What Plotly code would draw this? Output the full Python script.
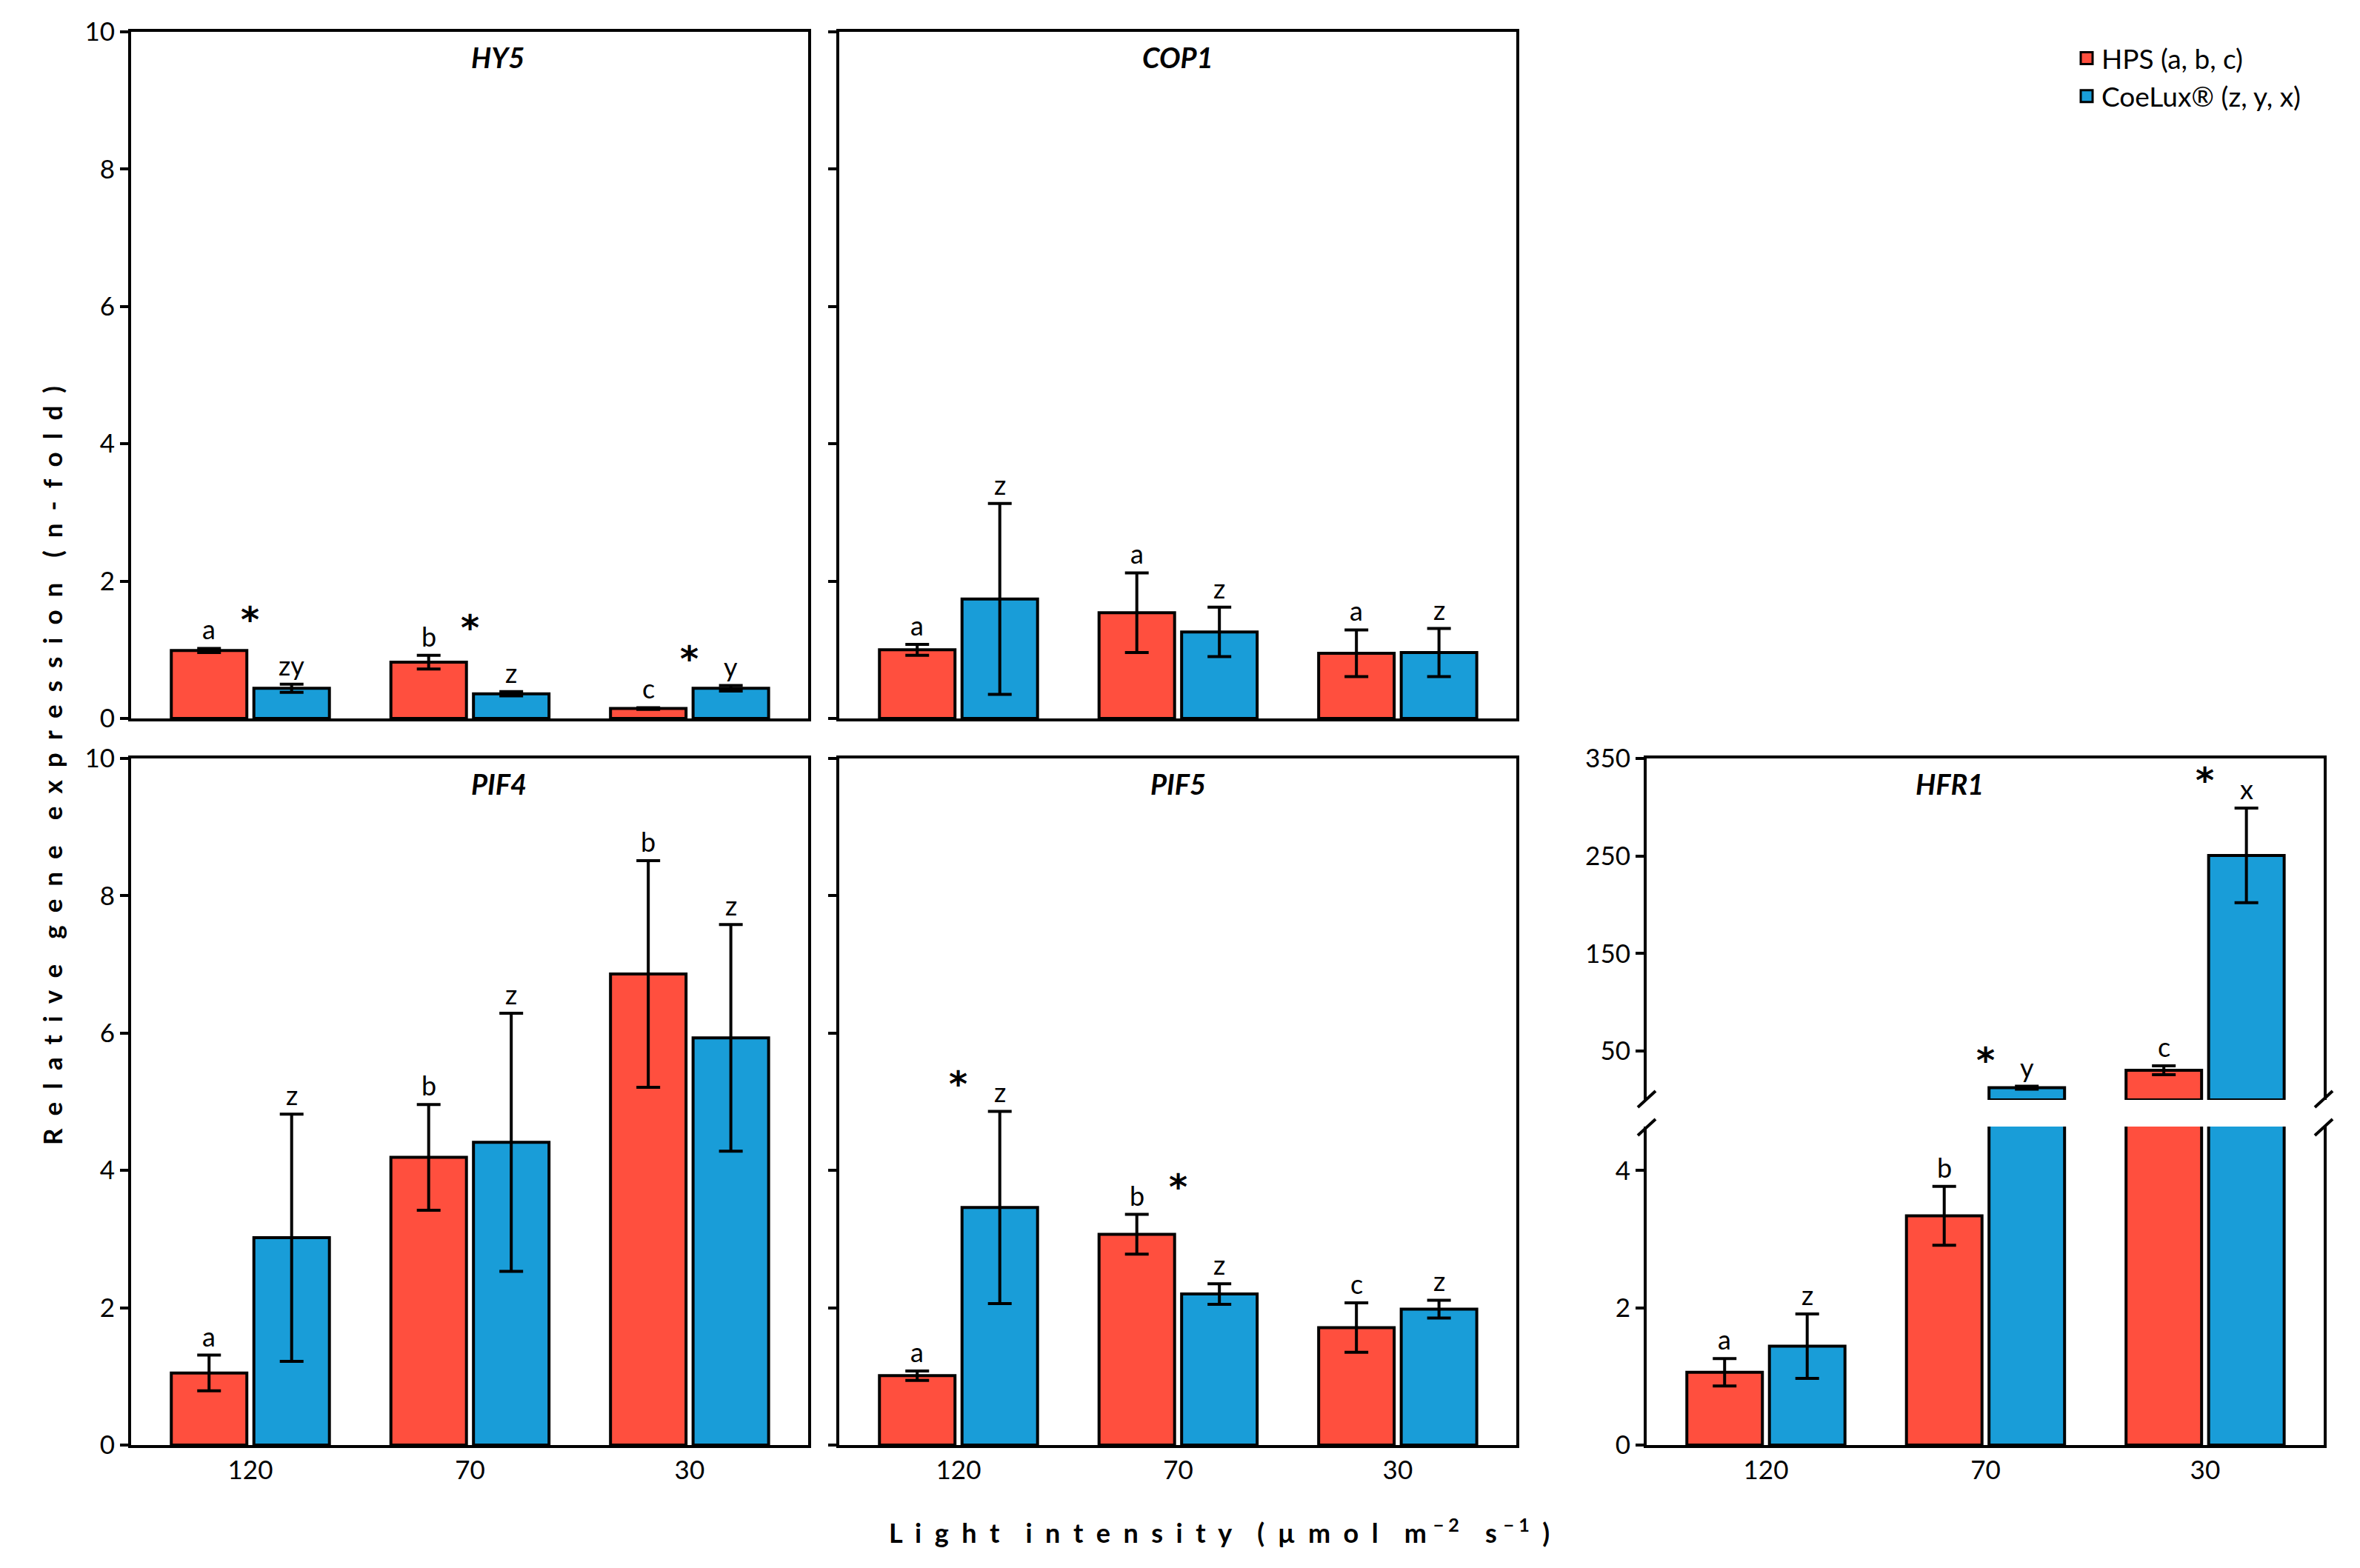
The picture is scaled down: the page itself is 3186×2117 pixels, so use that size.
import plotly.graph_objects as go

W, H = 3186, 2117
FONT = "Lato"

# ---------------- data ----------------
categories = ["120", "70", "30"]
series_names = ["HPS (a, b, c)", "CoeLux® (z, y, x)"]
colors = ["#FF4F3E", "#199DD8"]

hy5_hps = [0.99, 0.82, 0.145]
hy5_hps_err = [0.03, 0.10, 0.012]
hy5_coe = [0.44, 0.36, 0.44]
hy5_coe_err = [0.06, 0.03, 0.04]
hy5_hps_letters = ["a", "b", "c"]
hy5_coe_letters = ["zy", "z", "y"]
hy5_star_x = [0, 1, 2]
hy5_star_y = [1.54, 1.42, 0.97]

cop1_hps = [1.00, 1.54, 0.95]
cop1_hps_err = [0.08, 0.58, 0.34]
cop1_coe = [1.74, 1.26, 0.96]
cop1_coe_err = [1.39, 0.36, 0.35]
cop1_hps_letters = ["a", "a", "a"]
cop1_coe_letters = ["z", "z", "z"]
cop1_star_x = []
cop1_star_y = []

pif4_hps = [1.05, 4.19, 6.86]
pif4_hps_err = [0.26, 0.77, 1.65]
pif4_coe = [3.02, 4.41, 5.93]
pif4_coe_err = [1.80, 1.88, 1.65]
pif4_hps_letters = ["a", "b", "b"]
pif4_coe_letters = ["z", "z", "z"]
pif4_star_x = []
pif4_star_y = []

pif5_hps = [1.01, 3.07, 1.71]
pif5_hps_err = [0.07, 0.29, 0.36]
pif5_coe = [3.46, 2.20, 1.98]
pif5_coe_err = [1.40, 0.15, 0.13]
pif5_hps_letters = ["a", "b", "c"]
pif5_coe_letters = ["z", "z", "z"]
pif5_star_x = [0, 1]
pif5_star_y = [5.36, 3.86]

hfr1_hps = [1.06, 3.34, 30.4]
hfr1_hps_err = [0.20, 0.43, 4.5]
hfr1_coe = [1.44, 12.5, 250.6]
hfr1_coe_err = [0.47, 1.5, 48.5]
hfr1_hps_letters = ["a", "b", "c"]
hfr1_coe_letters = ["z", "y", "x"]
hfr1_star_x = [1, 2]
hfr1_star_y = [48, 335]

main_ticks = [0, 2, 4, 6, 8, 10]
hfr1_low_ticks = [0, 2, 4]
hfr1_high_ticks = [50, 150, 250, 350]
HFR1_LOW_MAX = 4.64
HFR1_HIGH_RANGE = [0, 350]

# ---------------- geometry (pixels) ----------------
def px_x(p):
    return p / W

def px_y(p):
    return 1 - p / H

COLS = [(177, 1091), (1133, 2047), (2223, 3137)]
TOP_ROW = (43, 970)
BOT_ROW = (1024, 1951)
HFR1_UP = (1024, 1485)
HFR1_LO = (1521, 1951)

BARGAP = 0.248
BARGROUPGAP = 0.085
OFF = (1 - BARGAP) / 4  # bar centre offset from category centre

fig = go.Figure()

panels = [
    ("HY5", 1, COLS[0], TOP_ROW, hy5_hps, hy5_hps_err, hy5_coe, hy5_coe_err,
     hy5_hps_letters, hy5_coe_letters, hy5_star_x, hy5_star_y, True, False),
    ("COP1", 2, COLS[1], TOP_ROW, cop1_hps, cop1_hps_err, cop1_coe, cop1_coe_err,
     cop1_hps_letters, cop1_coe_letters, cop1_star_x, cop1_star_y, False, False),
    ("PIF4", 3, COLS[0], BOT_ROW, pif4_hps, pif4_hps_err, pif4_coe, pif4_coe_err,
     pif4_hps_letters, pif4_coe_letters, pif4_star_x, pif4_star_y, True, True),
    ("PIF5", 4, COLS[1], BOT_ROW, pif5_hps, pif5_hps_err, pif5_coe, pif5_coe_err,
     pif5_hps_letters, pif5_coe_letters, pif5_star_x, pif5_star_y, False, True),
]

xs = list(range(len(categories)))
annotations = []
layout_axes = {}


def sfx_of(ax_i):
    return "" if ax_i == 1 else str(ax_i)


def add_bars(ax_i, hps, hps_err, coe, coe_err):
    sfx = sfx_of(ax_i)
    for name, vals, errs, col in [(series_names[0], hps, hps_err, colors[0]),
                                  (series_names[1], coe, coe_err, colors[1])]:
        fig.add_trace(go.Bar(
            x=xs, y=vals, name=name, showlegend=False, legendgroup=name,
            marker=dict(color=col, line=dict(color="black", width=4)),
            error_y=dict(type="data", array=errs, color="black", thickness=4, width=16),
            xaxis="x" + sfx, yaxis="y" + sfx,
        ))


def letter_ann(ax_i, x, y, text):
    sfx = sfx_of(ax_i)
    annotations.append(dict(x=x, y=y, xref="x" + sfx, yref="y" + sfx, text=text,
                            showarrow=False, yanchor="bottom", yshift=2,
                            font=dict(family=FONT, size=36, color="black")))


def star_ann(ax_i, x, y):
    sfx = sfx_of(ax_i)
    annotations.append(dict(x=x, y=y, xref="x" + sfx, yref="y" + sfx, text="<b>*</b>",
                            showarrow=False, yanchor="middle", yshift=-9,
                            font=dict(family="DejaVu Sans", size=48, color="black")))


def title_ann(col, row, text):
    annotations.append(dict(x=px_x((col[0] + col[1]) / 2), y=px_y(row[0] + 34),
                            xref="paper", yref="paper", text="<b><i>%s</i></b>" % text,
                            showarrow=False, yanchor="middle",
                            font=dict(family=FONT, size=38, color="black")))


axis_common = dict(showgrid=False, zeroline=False, linecolor="black", linewidth=4,
                   automargin=False,
                   tickfont=dict(family=FONT, size=35, color="black"))

# legend entries (square swatches with black outline, one per series)
for name, col in zip(series_names, colors):
    fig.add_trace(go.Scatter(
        x=[None], y=[None], mode="markers", name=name, legendgroup=name,
        showlegend=True, hoverinfo="skip",
        marker=dict(symbol="square", size=16, color=col,
                    line=dict(color="black", width=3)),
    ))

for (name, ai, col, row, hps, hps_err, coe, coe_err, lh, lc, sx, sy,
     ylabels, xlabels) in panels:
    add_bars(ai, hps, hps_err, coe, coe_err)
    sfx = sfx_of(ai)
    layout_axes["xaxis" + sfx] = dict(
        axis_common, domain=[px_x(col[0]), px_x(col[1])], anchor="y" + sfx,
        range=[-0.543, 2.54], showline=True, mirror=True, ticks="",
        tickvals=xs, ticktext=categories, showticklabels=xlabels)
    layout_axes["yaxis" + sfx] = dict(
        axis_common, domain=[px_y(row[1]), px_y(row[0])], anchor="x" + sfx,
        range=[0, 10], showline=True, mirror=True, ticks="outside", ticklen=11,
        tickwidth=4, tickcolor="black", tickvals=main_ticks,
        showticklabels=ylabels)
    for i in xs:
        letter_ann(ai, i - OFF, hps[i] + hps_err[i], lh[i])
        letter_ann(ai, i + OFF, coe[i] + coe_err[i], lc[i])
    for x, y in zip(sx, sy):
        star_ann(ai, x, y)
    title_ann(col, row, name)

# ---------------- HFR1 (broken axis) ----------------
add_bars(5, hfr1_hps, hfr1_hps_err, hfr1_coe, hfr1_coe_err)
up_hps = [v if v > HFR1_LOW_MAX else None for v in hfr1_hps]
up_coe = [v if v > HFR1_LOW_MAX else None for v in hfr1_coe]
add_bars(6, up_hps, hfr1_hps_err, up_coe, hfr1_coe_err)

col = COLS[2]
layout_axes["xaxis5"] = dict(axis_common, domain=[px_x(col[0]), px_x(col[1])], anchor="y5",
                             range=[-0.543, 2.54], showline=True, mirror=False, ticks="",
                             tickvals=xs, ticktext=categories)
layout_axes["yaxis5"] = dict(axis_common, domain=[px_y(HFR1_LO[1]), px_y(HFR1_LO[0])],
                             anchor="x5", range=[0, HFR1_LOW_MAX], showline=True, mirror=True,
                             ticks="outside", ticklen=11, tickwidth=4, tickcolor="black",
                             tickvals=hfr1_low_ticks)
layout_axes["xaxis6"] = dict(axis_common, domain=[px_x(col[0]), px_x(col[1])], anchor="y6",
                             range=[-0.543, 2.54], showline=True, mirror=False, side="top",
                             ticks="", showticklabels=False, matches="x5")
layout_axes["yaxis6"] = dict(axis_common, domain=[px_y(HFR1_UP[1]), px_y(HFR1_UP[0])],
                             anchor="x6", range=HFR1_HIGH_RANGE, showline=True, mirror=True,
                             ticks="outside", ticklen=11, tickwidth=4, tickcolor="black",
                             tickvals=hfr1_high_ticks)

for i in xs:
    for vals, errs, labs, off in [(hfr1_hps, hfr1_hps_err, hfr1_hps_letters, -OFF),
                                  (hfr1_coe, hfr1_coe_err, hfr1_coe_letters, OFF)]:
        top = vals[i] + errs[i]
        letter_ann(6 if top > HFR1_LOW_MAX else 5, i + off, top, labs[i])
for x, y in zip(hfr1_star_x, hfr1_star_y):
    star_ann(6 if y > HFR1_LOW_MAX else 5, x, y)
title_ann(col, BOT_ROW, "HFR1")

# break marks on both vertical axes
shapes = []
for ax_px in col:
    for cy in (HFR1_UP[1] - 1, HFR1_LO[0] + 1):
        shapes.append(dict(type="line", xref="paper", yref="paper",
                           x0=px_x(ax_px - 12), y0=px_y(cy + 11),
                           x1=px_x(ax_px + 12), y1=px_y(cy - 11),
                           line=dict(color="black", width=4)))

# axis titles (letter-spaced, bold)
NB = "\u00a0"


def spaced(s):
    return (NB * 4).join((NB * 2).join(list(w)) for w in s.split(" "))


annotations.append(dict(x=px_x(47), y=px_y(1034), xref="paper", yref="paper",
                        text="<b>" + spaced("Relative gene expression (n-fold)") + "</b>",
                        textangle=-90, showarrow=False,
                        font=dict(family=FONT, size=35, color="black")))
xt = ("<b>" + spaced("Light intensity (µmol") + NB * 4
      + "m" + NB + "<sup>\u2212" + NB + "2</sup>" + NB * 4
      + "s" + NB + "<sup>\u2212" + NB + "1</sup>" + NB * 2 + ")</b>")
annotations.append(dict(x=px_x(1646), y=px_y(2093), xref="paper", yref="paper",
                        text=xt, showarrow=False,
                        font=dict(family=FONT, size=36, color="black")))

fig.update_layout(
    width=W, height=H, margin=dict(l=0, r=0, t=0, b=0, pad=0, autoexpand=False),
    paper_bgcolor="white", plot_bgcolor="white",
    barmode="group", bargap=BARGAP, bargroupgap=BARGROUPGAP,
    font=dict(family=FONT, size=35, color="black"),
    legend=dict(x=px_x(2797), y=px_y(48), xanchor="left", yanchor="top",
                font=dict(family=FONT, size=37, color="black"),
                bgcolor="rgba(0,0,0,0)", tracegroupgap=0),
    annotations=annotations, shapes=shapes,
    **layout_axes,
)

fig.write_html(
    "out.html",
    config={"displayModeBar": False},
    post_script=(
        "var d=document.getElementsByClassName('plotly-graph-div')[0];"
        "d.style.position='absolute';d.style.left='0px';d.style.top='0px';"
        "document.body.style.margin='0';document.body.style.overflow='hidden';"
        "document.documentElement.style.overflow='hidden';"
    ),
)
